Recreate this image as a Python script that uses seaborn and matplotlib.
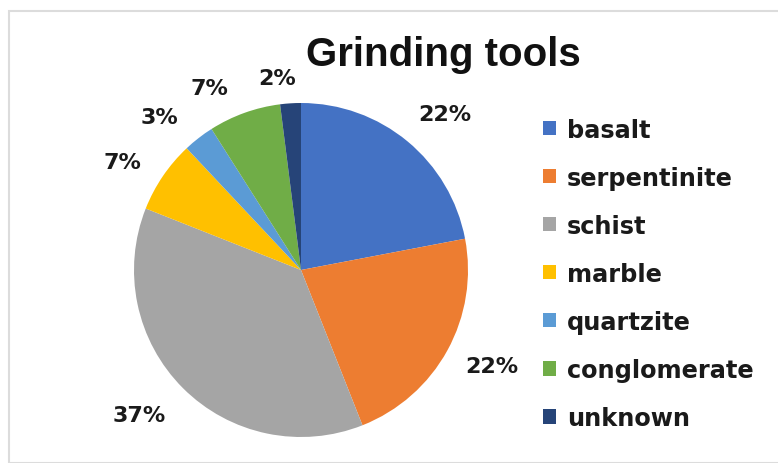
import matplotlib
matplotlib.use("Agg")
import numpy as np
import matplotlib.pyplot as plt
from matplotlib.patches import Patch, Rectangle
import seaborn as sns

stones = ["basalt", "serpentinite", "schist", "marble", "quartzite", "conglomerate", "unknown"]
shares = [22, 22, 37, 7, 3, 7, 2]
colors = ["#4472C4", "#ED7D31", "#A5A5A5", "#FFC000", "#5B9BD5", "#70AD47", "#264478"]

# "best fit" style label placement: radial distance and small angular nudge (deg)
label_dist = [1.27, 1.28, 1.30, 1.25, 1.25, 1.22, 1.16]
label_nudge = [-3, 2, -3, 3, 5, 7, 3.5]

sns.set_theme(style="white")
plt.rcParams["font.family"] = ["DejaVu Sans"]

fig = plt.figure(figsize=(7.78, 4.64), dpi=100)

# light frame around the chart area
fig.patches.append(Rectangle((9 / 778, 0), 1, (464 - 12) / 464, transform=fig.transFigure,
                             fill=False, edgecolor="#dcdcdc", linewidth=1.5))

cx, cy, r = 301, 271, 167
ax = fig.add_axes([(cx - r) / 778, (464 - cy - r) / 464, 2 * r / 778, 2 * r / 464])
wedges, _, autotexts = ax.pie(shares, colors=colors, startangle=90, counterclock=False,
                              autopct="%1.0f%%", pctdistance=1.27,
                              wedgeprops=dict(edgecolor="none", linewidth=0),
                              textprops=dict(fontsize=16, fontweight="bold", color="#1a1a1a"))
for w, t, d, n in zip(wedges, autotexts, label_dist, label_nudge):
    ang = np.deg2rad((w.theta1 + w.theta2) / 2 + n)
    t.set_position((d * np.cos(ang), d * np.sin(ang)))
ax.set_aspect("equal")
ax.set_xlim(-1, 1)
ax.set_ylim(-1, 1)
ax.axis("off")

fig.text(443 / 778, 1 - 55 / 464, "Grinding tools", ha="center", va="center",
         fontsize=29, fontweight="bold", color="#111111",
         family=["Liberation Sans", "DejaVu Sans"])

handles = [Patch(facecolor=c, edgecolor="none") for c in colors]
fig.legend(handles, stones, loc="upper left", bbox_to_anchor=(521 / 778, 1 - 97 / 464),
           frameon=False, prop=dict(weight="bold", size=17.3),
           handlelength=0.55, handleheight=0.55, handletextpad=0.45, labelspacing=1.0,
           labelcolor="#1a1a1a")

fig.savefig("out.png", dpi=100)
